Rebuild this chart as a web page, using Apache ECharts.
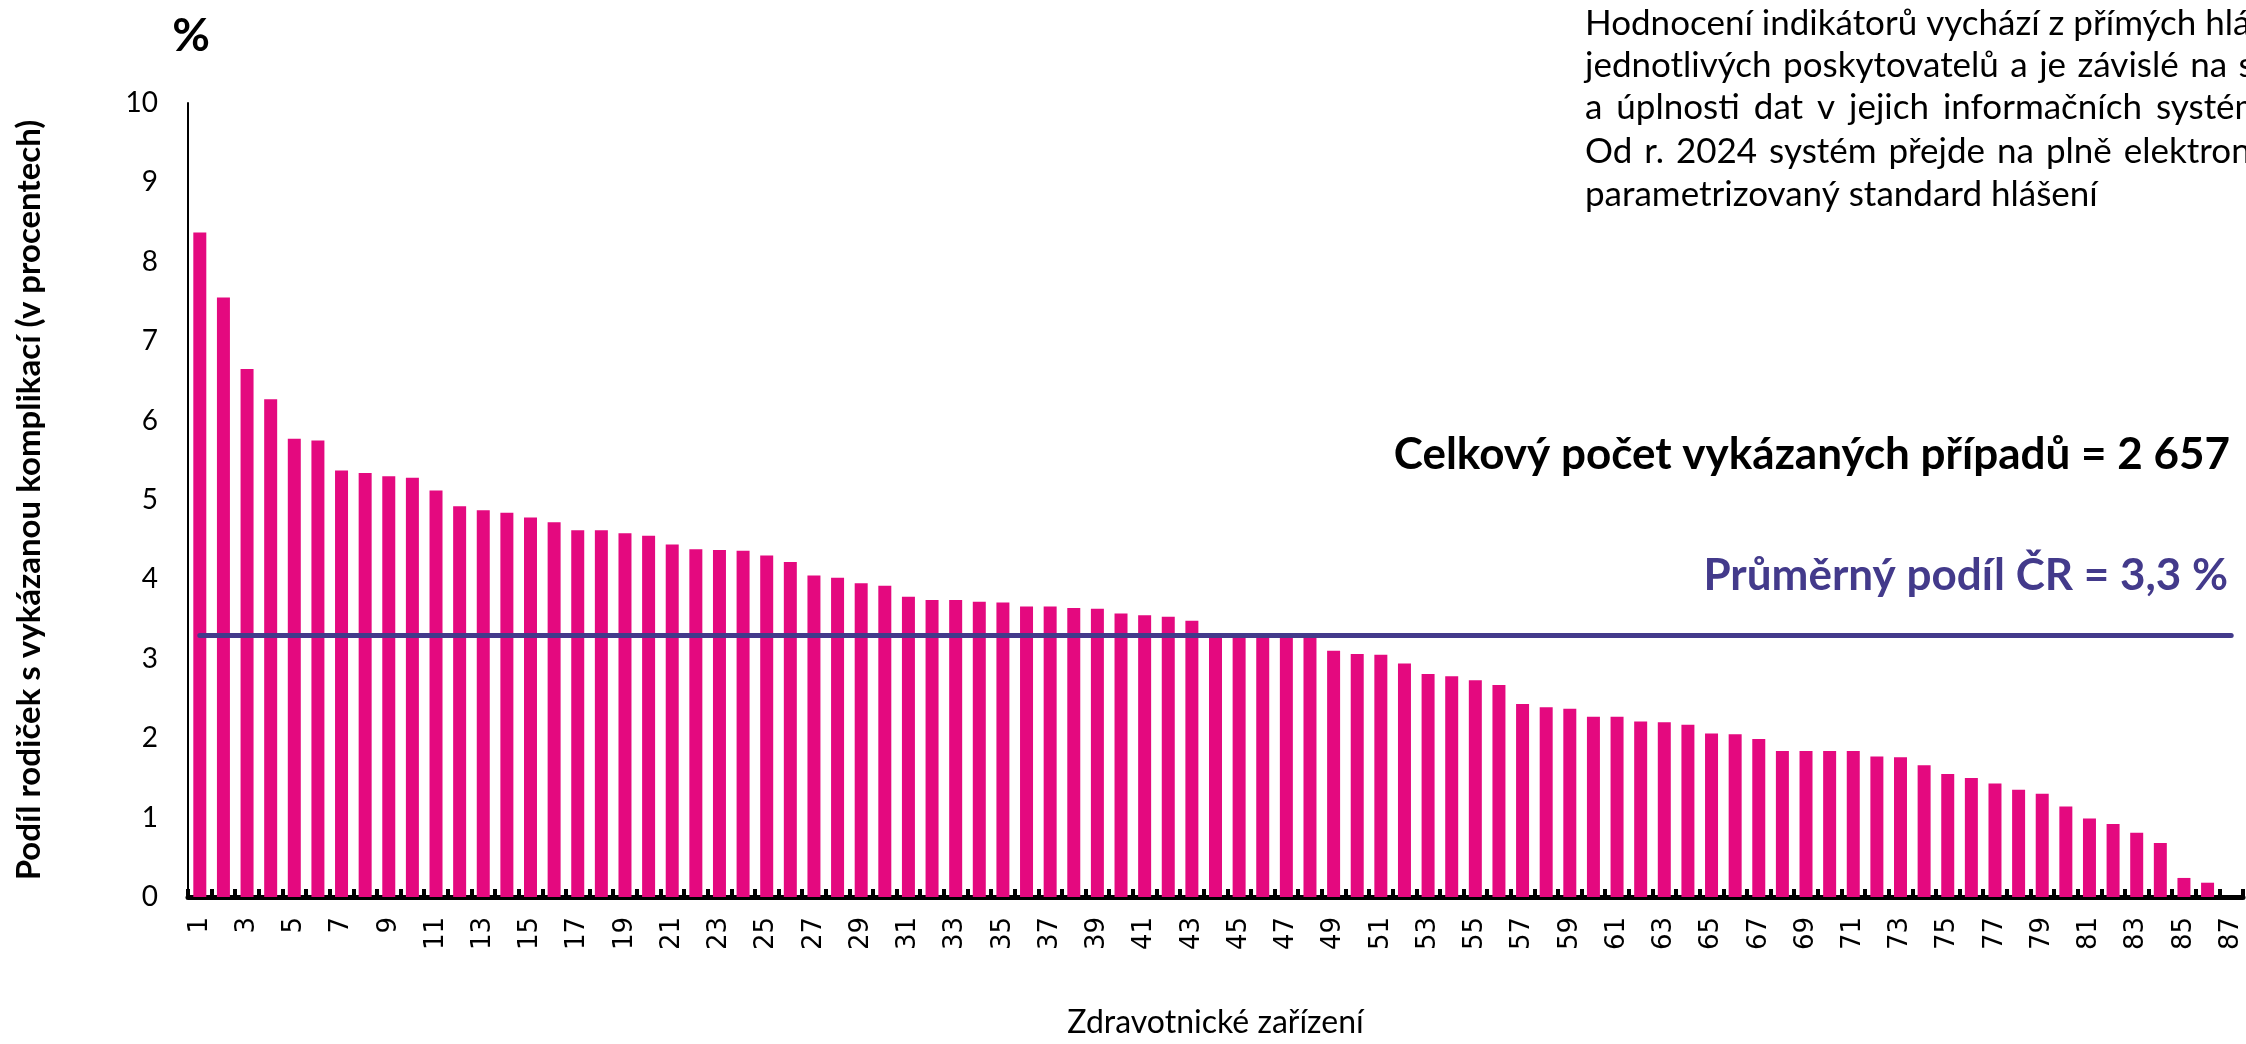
<!DOCTYPE html>
<html>
<head>
<meta charset="utf-8">
<script src="https://cdn.jsdelivr.net/npm/echarts@6/dist/echarts.min.js"></script>
<style>
html,body{margin:0;padding:0;background:#fff;}
#chart{width:2246px;height:1044px;}
</style>
</head>
<body>
<div id="chart"></div>
<script>
const categories = ['1','2','3','4','5','6','7','8','9','10','11','12','13','14','15','16','17','18','19','20',
  '21','22','23','24','25','26','27','28','29','30','31','32','33','34','35','36','37','38','39','40',
  '41','42','43','44','45','46','47','48','49','50','51','52','53','54','55','56','57','58','59','60',
  '61','62','63','64','65','66','67','68','69','70','71','72','73','74','75','76','77','78','79','80',
  '81','82','83','84','85','86','87'];
const shareValues = [8.37,7.55,6.65,6.27,5.77,5.75,5.37,5.34,5.30,5.28,
  5.12,4.92,4.87,4.84,4.78,4.72,4.62,4.62,4.58,4.55,
  4.44,4.38,4.37,4.36,4.30,4.22,4.05,4.02,3.95,3.92,
  3.78,3.74,3.74,3.72,3.71,3.66,3.66,3.64,3.63,3.57,
  3.55,3.53,3.48,3.31,3.30,3.30,3.30,3.30,3.10,3.06,
  3.05,2.94,2.81,2.78,2.73,2.67,2.43,2.39,2.37,2.27,
  2.27,2.21,2.20,2.17,2.06,2.05,1.99,1.84,1.84,1.84,
  1.84,1.77,1.76,1.66,1.55,1.50,1.43,1.35,1.30,1.14,
  0.99,0.92,0.81,0.68,0.24,0.18,0];
const averageCR = 3.3;
const totalCases = '2 657';
const yTitle = 'Podíl rodiček s vykázanou komplikací (v procentech)';
const xTitle = 'Zdravotnické zařízení';
const noteLines = [
  'Hodnocení indikátorů vychází z přímých hlášení',
  'jednotlivých poskytovatelů a je závislé na správnosti',
  'a úplnosti dat v jejich informačních systémech.',
  'Od r. 2024 systém přejde na plně elektronický',
  'parametrizovaný standard hlášení'
];

const chart = echarts.init(document.getElementById('chart'));

// layout of the justified note (annotation text, word by word)
const noteFont = '35px Lato';
const noteX = 1585;
const noteY = [24, 66, 108, 152, 195];
const noteExtraGap = [0, 2.5, 5, 3, 0];
const mctx = document.createElement('canvas').getContext('2d');
mctx.font = noteFont;
const spaceW = mctx.measureText(' ').width;

const graphics = [
  {type:'text', x:191, y:36, style:{text:'%', font:'bold 46px Lato', fill:'#000', textAlign:'center', textVerticalAlign:'middle'}},
  {type:'text', x:2230, y:455, style:{text:'Celkový počet vykázaných případů = ' + totalCases, font:'bold 44px Lato', fill:'#000', textAlign:'right', textVerticalAlign:'middle'}},
  {type:'text', x:2228, y:576, style:{text:'Průměrný podíl ČR = ' + String(averageCR).replace('.', ',') + ' %', font:'bold 44px Lato', fill:'#433A8B', textAlign:'right', textVerticalAlign:'middle'}}
];
noteLines.forEach((line, i) => {
  let x = noteX;
  line.split(' ').forEach(word => {
    graphics.push({type:'text', x:x, y:noteY[i], style:{text:word, font:noteFont, fill:'#000', textAlign:'left', textVerticalAlign:'middle'}});
    x += mctx.measureText(word).width + spaceW + noteExtraGap[i];
  });
});

chart.setOption({
  animation: false,
  backgroundColor: '#fff',
  grid: {left:188, right:3, top:103, bottom:124, containLabel:false},
  xAxis: {
    type:'category',
    data: categories,
    name: xTitle,
    nameLocation:'middle',
    nameGap:110,
    nameTextStyle:{fontFamily:'Lato', fontSize:32, color:'#000'},
    axisLine:{show:true, lineStyle:{color:'#000', width:5}},
    axisTick:{show:true, inside:true, length:8, interval:0, lineStyle:{color:'#000', width:4}},
    axisLabel:{interval:1, rotate:90, fontFamily:'DejaVu Sans', fontSize:26, color:'#000', margin:20},
    splitLine:{show:false}
  },
  yAxis: {
    type:'value',
    min:0, max:10, interval:1,
    name: yTitle,
    nameLocation:'middle',
    nameGap:142,
    nameTextStyle:{fontFamily:'Lato', fontWeight:'bold', fontSize:33, color:'#000'},
    axisLine:{show:true, lineStyle:{color:'#000', width:2}},
    axisTick:{show:false},
    axisLabel:{fontFamily:'Lato', fontSize:28, color:'#000', margin:30},
    splitLine:{show:false}
  },
  series: [{
    type:'bar',
    data: shareValues,
    barWidth:'55%',
    itemStyle:{color:'#E4097F'},
    markLine:{
      silent:true,
      symbol:['none','none'],
      label:{show:false},
      lineStyle:{color:'#433A8B', width:5, type:'solid', cap:'round'},
      data:[[{coord:['1', averageCR]}, {coord:['87', averageCR]}]]
    }
  }],
  graphic: graphics
});
</script>
</body>
</html>
